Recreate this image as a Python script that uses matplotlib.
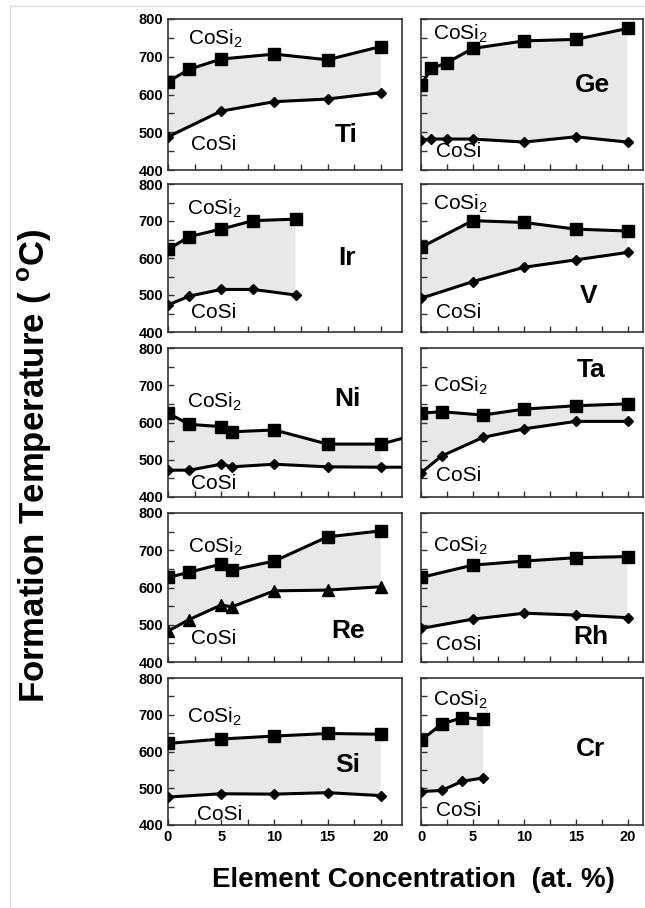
import numpy as np
import matplotlib
matplotlib.use("Agg")
import matplotlib.pyplot as plt
from matplotlib.ticker import MultipleLocator
from matplotlib.lines import Line2D

plt.rcParams['font.family'] = ['Liberation Sans', 'DejaVu Sans']
plt.rcParams['mathtext.fontset'] = 'custom'
plt.rcParams['mathtext.rm'] = 'Liberation Sans'
plt.rcParams['mathtext.bf'] = 'Liberation Sans:bold'

# formation temperatures (C), x in at.%
ti_x2 = [0, 2, 5, 10, 15, 20]
ti_cosi2 = [634, 667, 694, 707, 692, 727]
ti_x1 = [0, 5, 10, 15, 20]
ti_cosi = [488, 556, 581, 588, 605]

ge_x = [0, 1, 2.5, 5, 10, 15, 20]
ge_cosi2 = [625, 669, 684, 722, 742, 746, 775]
ge_cosi = [480, 482, 482, 482, 474, 488, 474]

ir_x = [0, 2, 5, 8, 12]
ir_cosi2 = [623, 658, 678, 701, 705]
ir_cosi = [473, 497, 515, 515, 500]

v_x = [0, 5, 10, 15, 20]
v_cosi2 = [629, 701, 696, 678, 673]
v_cosi = [491, 536, 575, 595, 615]

ni_x = [0, 2, 5, 6, 10, 15, 20, 25]
ni_cosi2 = [625, 595, 589, 575, 580, 542, 542, 580]
ni_cosi = [472, 472, 488, 481, 488, 481, 480, 480]

ta_x = [0, 2, 6, 10, 15, 20]
ta_cosi2 = [625, 629, 620, 636, 645, 650]
ta_cosi = [465, 510, 560, 583, 603, 603]

re_x = [0, 2, 5, 6, 10, 15, 20]
re_cosi2 = [627, 641, 663, 647, 671, 736, 752]
re_cosi = [483, 514, 553, 548, 591, 593, 602]

rh_x = [0, 5, 10, 15, 20]
rh_cosi2 = [627, 660, 671, 680, 683]
rh_cosi = [490, 515, 531, 526, 519]

si_x = [0, 5, 10, 15, 20]
si_cosi2 = [622, 634, 642, 649, 647]
si_cosi = [476, 485, 484, 488, 480]

cr_x = [0, 2, 4, 6]
cr_cosi2 = [630, 675, 692, 688]
cr_cosi = [491, 494, 519, 528]

# element, column, row, CoSi2 data, CoSi data, CoSi marker, end of shading,
# label spots (axes fraction): CoSi2, CoSi, element
panels = [
    ('Ti', 0, 0, ti_x2, ti_cosi2, ti_x1, ti_cosi, 'D', 20, (0.085, 0.87), (0.10, 0.17), (0.76, 0.23)),
    ('Ge', 1, 0, ge_x, ge_cosi2, ge_x, ge_cosi, 'D', 20, (0.055, 0.90), (0.066, 0.12), (0.77, 0.56)),
    ('Ir', 0, 1, ir_x, ir_cosi2, ir_x, ir_cosi, 'D', 12, (0.083, 0.835), (0.10, 0.135), (0.765, 0.50)),
    ('V', 1, 1, v_x, v_cosi2, v_x, v_cosi, 'D', 20, (0.055, 0.87), (0.066, 0.135), (0.757, 0.24)),
    ('Ni', 0, 2, ni_x, ni_cosi2, ni_x, ni_cosi, 'D', 20, (0.08, 0.64), (0.10, 0.09), (0.766, 0.66)),
    ('Ta', 1, 2, ta_x, ta_cosi2, ta_x, ta_cosi, 'D', 20, (0.055, 0.75), (0.066, 0.145), (0.764, 0.85)),
    ('Re', 0, 3, re_x, re_cosi2, re_x, re_cosi, '^', 20, (0.087, 0.775), (0.10, 0.155), (0.77, 0.21)),
    ('Rh', 1, 3, rh_x, rh_cosi2, rh_x, rh_cosi, 'D', 20, (0.055, 0.78), (0.066, 0.12), (0.764, 0.17)),
    ('Si', 0, 4, si_x, si_cosi2, si_x, si_cosi, 'D', 20, (0.08, 0.735), (0.123, 0.07), (0.766, 0.41)),
    ('Cr', 1, 4, cr_x, cr_cosi2, cr_x, cr_cosi, 'D', 6, (0.055, 0.85), (0.066, 0.10), (0.764, 0.52)),
]

W, H = 645, 908
fig = plt.figure(figsize=(W / 100, H / 100), dpi=100)

col_left = [168, 421]
col_width = [234, 222]
col_xmax = [22, 21.5]
row_top = [19, 184, 348, 513, 678]
row_bot = [170, 332, 497, 662, 825]

for (name, col, row, x2, y2, x1, y1, mk, fend, p2, p1, pe) in panels:
    ax = fig.add_axes([col_left[col] / W, 1 - row_bot[row] / H,
                       col_width[col] / W, (row_bot[row] - row_top[row]) / H])
    x2a, y2a = np.array(x2, float), np.array(y2, float)
    x1a, y1a = np.array(x1, float), np.array(y1, float)
    m2 = x2a <= fend
    m1 = x1a <= fend
    ax.fill(np.concatenate([x2a[m2], x1a[m1][::-1]]),
            np.concatenate([y2a[m2], y1a[m1][::-1]]),
            color='#e8e8e8', lw=0, zorder=1)
    ax.plot(x2a, y2a, color='black', lw=2.2, marker='s', ms=9, zorder=3)
    ax.plot(x1a, y1a, color='black', lw=2.2, marker=mk,
            ms=8.5 if mk == '^' else 5.5, zorder=3)

    ax.set_xlim(0, col_xmax[col])
    ax.set_ylim(400, 800)
    ax.xaxis.set_major_locator(MultipleLocator(5))
    ax.xaxis.set_minor_locator(MultipleLocator(2.5))
    ax.yaxis.set_major_locator(MultipleLocator(100))
    ax.yaxis.set_minor_locator(MultipleLocator(50))
    ax.tick_params(which='both', direction='in', length=4, width=1,
                   color='#333333', labelsize=10.5, pad=3.5)
    ax.tick_params(labelleft=(col == 0), labelbottom=(row == 4))
    for lab in ax.get_xticklabels() + ax.get_yticklabels():
        lab.set_fontweight('bold')
    for sp in ax.spines.values():
        sp.set_linewidth(1.2)
        sp.set_color('#333333')

    ax.text(p2[0], p2[1], r'CoSi$_2$', transform=ax.transAxes,
            ha='left', va='center', fontsize=15)
    ax.text(p1[0], p1[1], 'CoSi', transform=ax.transAxes,
            ha='left', va='center', fontsize=15)
    ax.text(pe[0], pe[1], name, transform=ax.transAxes,
            ha='center', va='center', fontsize=19, fontweight='bold')

fig.text(35 / W, 1 - 466 / H, r'Formation Temperature ( $^{\mathbf{o}}$C)',
         rotation=90, ha='center', va='center', fontsize=25, fontweight='bold')
fig.text(413 / W, 1 - 880 / H, 'Element Concentration  (at. %)',
         ha='center', va='center', fontsize=20, fontweight='bold')

# thin grey frame of the original scan
fig.add_artist(Line2D([10 / W, 10 / W], [0, 1 - 6 / H], color='#dddddd', lw=1))
fig.add_artist(Line2D([10 / W, 1], [1 - 6 / H, 1 - 6 / H], color='#dddddd', lw=1))

fig.savefig('out.png', dpi=100)
